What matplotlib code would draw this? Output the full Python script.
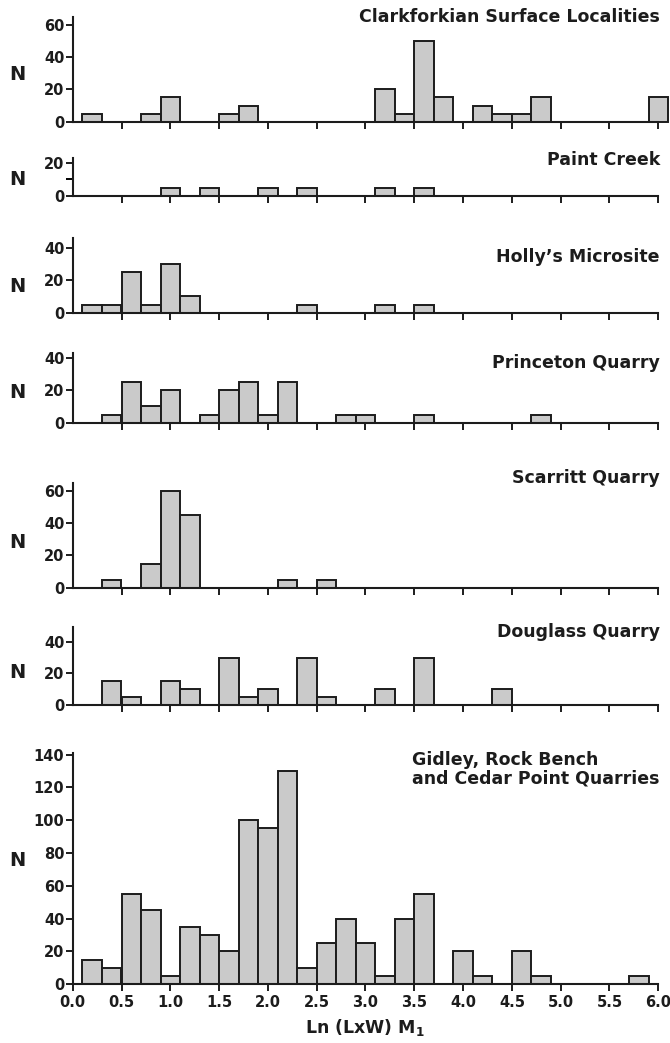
import matplotlib
matplotlib.use("Agg")
import matplotlib.pyplot as plt
from matplotlib.ticker import MultipleLocator

plt.rcParams['font.family'] = ['DejaVu Sans']
plt.rcParams['font.weight'] = 'bold'
plt.rcParams['mathtext.default'] = 'regular'

# left edges of the 0.2-wide size classes, Ln(LxW) of M1
bin_left = [0.1, 0.3, 0.5, 0.7, 0.9, 1.1, 1.3, 1.5, 1.7, 1.9,
            2.1, 2.3, 2.5, 2.7, 2.9, 3.1, 3.3, 3.5, 3.7, 3.9,
            4.1, 4.3, 4.5, 4.7, 4.9, 5.1, 5.3, 5.5, 5.7, 5.9]
bin_width = 0.2

clarkforkian = [5, 0, 0, 5, 15, 0, 0, 5, 10, 0, 0, 0, 0, 0, 0,
                20, 5, 50, 15, 0, 10, 5, 5, 15, 0, 0, 0, 0, 0, 15]
paint_creek = [0, 0, 0, 0, 5, 0, 5, 0, 0, 5, 0, 5, 0, 0, 0,
               5, 0, 5, 0, 0, 0, 0, 0, 0, 0, 0, 0, 0, 0, 0]
hollys = [5, 5, 25, 5, 30, 10, 0, 0, 0, 0, 0, 5, 0, 0, 0,
          5, 0, 5, 0, 0, 0, 0, 0, 0, 0, 0, 0, 0, 0, 0]
princeton = [0, 5, 25, 10, 20, 0, 5, 20, 25, 5, 25, 0, 0, 5, 5,
             0, 0, 5, 0, 0, 0, 0, 0, 5, 0, 0, 0, 0, 0, 0]
scarritt = [0, 5, 0, 15, 60, 45, 0, 0, 0, 0, 5, 0, 5, 0, 0,
            0, 0, 0, 0, 0, 0, 0, 0, 0, 0, 0, 0, 0, 0, 0]
douglass = [0, 15, 5, 0, 15, 10, 0, 30, 5, 10, 0, 30, 5, 0, 0,
            10, 0, 30, 0, 0, 0, 10, 0, 0, 0, 0, 0, 0, 0, 0]
gidley = [15, 10, 55, 45, 5, 35, 30, 20, 100, 95, 130, 10, 25, 40, 25,
          5, 40, 55, 0, 20, 5, 0, 20, 5, 0, 0, 0, 0, 5, 0]

titles = ["Clarkforkian Surface Localities", "Paint Creek", "Holly\u2019s Microsite",
          "Princeton Quarry", "Scarritt Quarry", "Douglass Quarry",
          "Gidley, Rock Bench\nand Cedar Point Quarries"]
series = [clarkforkian, paint_creek, hollys, princeton, scarritt, douglass, gidley]
y_ticks = [[0, 20, 40, 60], [0, 20], [0, 20, 40], [0, 20, 40],
           [0, 20, 40, 60], [0, 20, 40], [0, 20, 40, 60, 80, 100, 120, 140]]
y_top = [65, 23, 46, 43, 65, 49.5, 141]

# panel layout in pixels: (baseline y, spine top y, title y, N label y)
W, H = 670, 1043
panels = [(121.7, 16.7, 17, 75), (196, 158, 160, 180), (312.7, 238, 257, 287),
          (422.7, 353, 363, 392), (587.7, 483, 478, 542), (705, 626.7, 632, 673),
          (984.3, 753, 769, 860)]
x0_px, x1_px = 72.7, 658.3

fig = plt.figure(figsize=(W / 100, H / 100), dpi=100)
ink = '#1c1c1c'

for i, (vals, title) in enumerate(zip(series, titles)):
    base, top, ty, ny = panels[i]
    ax = fig.add_axes([x0_px / W, 1 - base / H, (x1_px - x0_px) / W, (base - top) / H])
    lefts = [b for b, v in zip(bin_left, vals) if v > 0]
    heights = [v for v in vals if v > 0]
    ax.bar(lefts, heights, width=bin_width, align='edge', color='#cacaca',
           edgecolor=ink, linewidth=1.4, clip_on=False, zorder=2)
    ax.set_xlim(0, 6.0)
    ax.set_ylim(0, y_top[i])
    for s in ['top', 'right']:
        ax.spines[s].set_visible(False)
    for s in ['left', 'bottom']:
        ax.spines[s].set_linewidth(1.5)
        ax.spines[s].set_color(ink)
        ax.spines[s].set_zorder(3)
    ax.set_yticks(y_ticks[i])
    ax.tick_params(axis='y', length=5, width=1.4, pad=1, labelsize=10.5, colors=ink)
    if i == 1:
        ax.yaxis.set_minor_locator(MultipleLocator(10))
        ax.tick_params(axis='y', which='minor', length=5, width=1.4)
    if i < len(series) - 1:
        ax.set_xticks([0.5, 1.0, 1.5, 2.0, 2.5, 3.0, 3.5, 4.0, 4.5, 5.0, 5.5, 6.0])
        ax.tick_params(axis='x', length=5, width=1.4, labelbottom=False, colors=ink)
    else:
        ax.set_xticks([0.0, 0.5, 1.0, 1.5, 2.0, 2.5, 3.0, 3.5, 4.0, 4.5, 5.0, 5.5, 6.0])
        ax.set_xticklabels(['0.0', '0.5', '1.0', '1.5', '2.0', '2.5', '3.0', '3.5',
                            '4.0', '4.5', '5.0', '5.5', '6.0'])
        ax.tick_params(axis='x', length=5, width=1.4, pad=3, labelsize=10.5, colors=ink)
    fig.text(660 / W, 1 - ty / H, title, ha='right', va='center', fontsize=12.5,
             multialignment='left', linespacing=1.0, color=ink)
    fig.text(17 / W, 1 - ny / H, 'N', ha='center', va='center', fontsize=14, color=ink)

fig.text(365 / W, 1 - 1028 / H, 'Ln (LxW) M$_1$', ha='center', va='center',
         fontsize=12.5, color=ink)

fig.savefig('out.png', dpi=100, facecolor='white')
